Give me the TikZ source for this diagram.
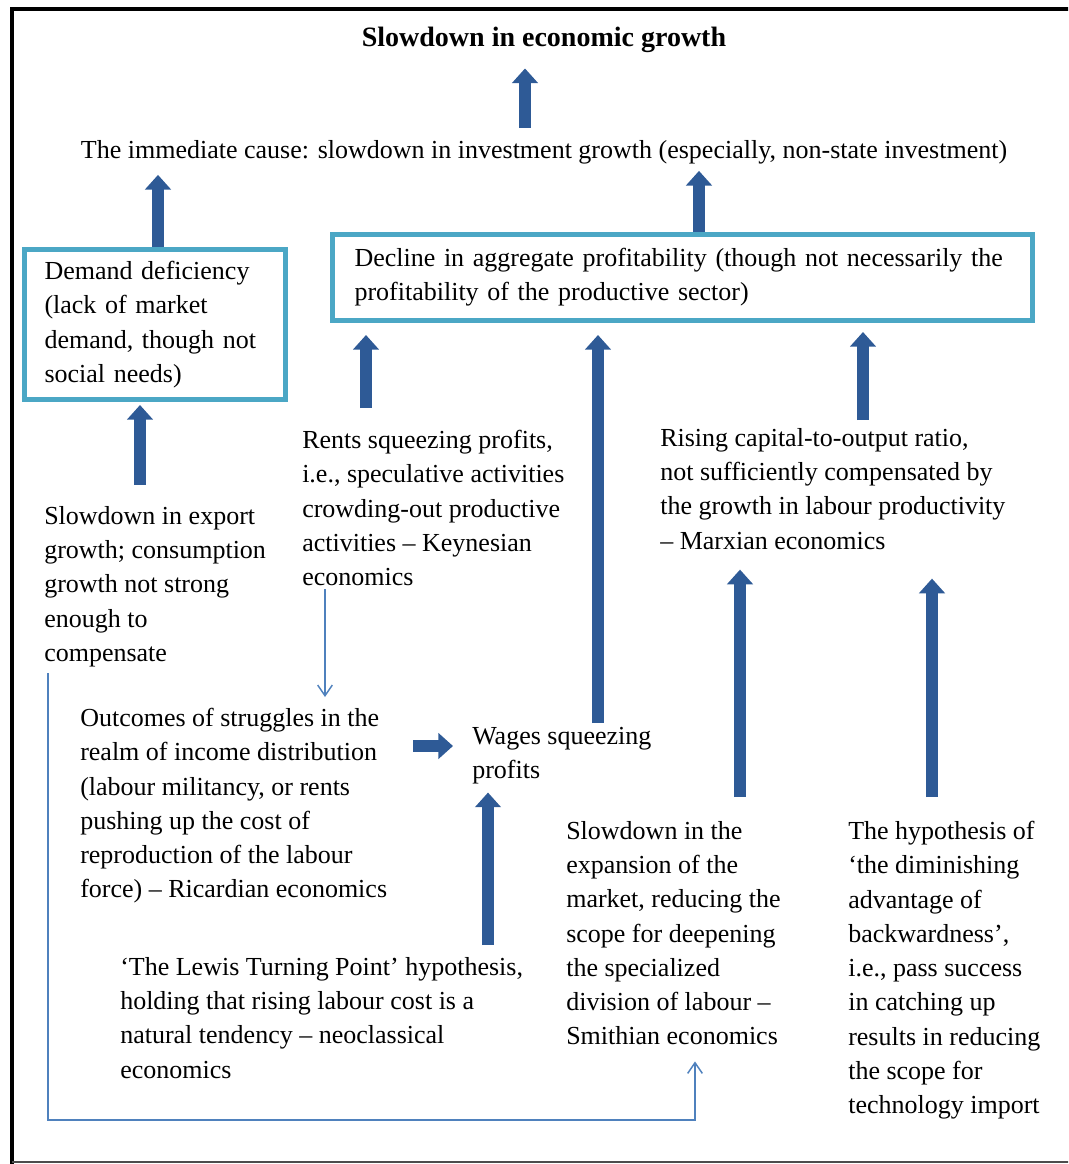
\documentclass[tikz,border=0pt]{standalone}
\usepackage{fontspec}
\setmainfont{Liberation Serif}
\usetikzlibrary{arrows.meta}

\definecolor{arrowblue}{RGB}{46,90,150}
\definecolor{thinblue}{RGB}{79,129,189}
\definecolor{boxteal}{RGB}{75,167,197}

\tikzset{
  txt/.style={anchor=north west, align=left, inner sep=0pt, font=\fontsize{19.5pt}{25.7pt}\selectfont},
  tealbox/.style={draw=boxteal, line width=3.75pt, anchor=north west, align=left, inner ysep=0pt, font=\fontsize{19.5pt}{25.7pt}\selectfont},
  blockarrow/.style={arrowblue, line width=8.5pt, -{Triangle[width=19pt,length=11pt]}},
  thinarrow/.style={thinblue, line width=1.1pt, -{Straight Barb[length=8pt,width=11pt]}}
}

\begin{document}
\begin{tikzpicture}[x=0.75pt,y=-0.75pt]

\useasboundingbox (0,0) rectangle (1068,1164);
\clip (0,0) rectangle (1068,1164);

% The frame
\draw[line width=3pt] (12,1166) -- (12,9) -- (1070,9);
\draw[black!70, line width=1.5pt] (12,1162) -- (1070,1162);

% The texts
\node[anchor=base, font=\fontsize{21pt}{25.7pt}\selectfont\bfseries, inner sep=0pt] (title) at (544,46) {Slowdown in economic growth};
\node[anchor=base, font=\fontsize{19.5pt}{25.7pt}\selectfont, inner sep=0pt] (immediate) at (544,158) {The immediate cause: slowdown in investment growth (especially, non-state investment)};

\node[tealbox, inner xsep=15pt, text width=165.75pt, minimum width=195.75pt, minimum height=112.5pt] (demand) at (22,247)
  {Demand deficiency\\(lack of market\\demand, though not\\social needs)};
\node[tealbox, inner xsep=16.5pt, text width=492pt, minimum width=525pt, minimum height=64.5pt] (profit) at (330,232)
  {Decline in aggregate profitability (though not necessarily the\\profitability of the productive sector)};

\node[txt] (export) at (44,506) {Slowdown in export\\growth; consumption\\growth not strong\\enough to\\compensate};
\node[txt] (rents) at (302,430) {Rents squeezing profits,\\i.e., speculative activities\\crowding-out productive\\activities – Keynesian\\economics};
\node[txt] (rising) at (660,428) {Rising capital-to-output ratio,\\not sufficiently compensated by\\the growth in labour productivity\\– Marxian economics};
\node[txt] (outcomes) at (80,708) {Outcomes of struggles in the\\realm of income distribution\\(labour militancy, or rents\\pushing up the cost of\\reproduction of the labour\\force) – Ricardian economics};
\node[txt] (wages) at (472,727) {Wages squeezing\\profits};
\node[txt] (smith) at (566,821) {Slowdown in the\\expansion of the\\market, reducing the\\scope for deepening\\the specialized\\division of labour –\\Smithian economics};
\node[txt] (backward) at (848,821) {The hypothesis of\\‘the diminishing\\advantage of\\backwardness’,\\i.e., pass success\\in catching up\\results in reducing\\the scope for\\technology import};
\node[txt] (lewis) at (120,957) {‘The Lewis Turning Point’ hypothesis,\\holding that rising labour cost is a\\natural tendency – neoclassical\\economics};

% The block arrows
\draw[blockarrow, shorten <=9pt, shorten >=12pt] (immediate.north -| 525,0) -- (title.south -| 525,0);
\draw[blockarrow, shorten >=8.25pt] (demand.north -| 158,0) -- (immediate.south -| 158,0);
\draw[blockarrow, shorten >=5.25pt] (profit.north -| 699,0) -- (immediate.south -| 699,0);
\draw[blockarrow, shorten <=16pt, shorten >=2.25pt] (export.north -| 140,0) -- (demand.south -| 140,0);
\draw[blockarrow, shorten <=16.5pt, shorten >=9pt] (rents.north -| 366,0) -- (profit.south -| 366,0);
\draw[blockarrow, shorten <=3pt, shorten >=9pt] (wages.north -| 598,0) -- (profit.south -| 598,0);
\draw[blockarrow, shorten <=6pt, shorten >=6.75pt] (rising.north -| 863,0) -- (profit.south -| 863,0);
\draw[blockarrow, shorten <=19.5pt, shorten >=14.25pt] (outcomes.east |- 0,746) -- (wages.west |- 0,746);
\draw[blockarrow, shorten <=9pt, shorten >=6pt] (lewis.north -| 488,0) -- (wages.south -| 488,0);
\draw[blockarrow, shorten <=18pt, shorten >=15pt] (smith.north -| 740,0) -- (rising.south -| 740,0);
\draw[blockarrow, shorten <=18pt, shorten >=21.75pt] (backward.north -| 932,0) -- (rising.south -| 932,0);

% The thin arrows
\coordinate (turn) at (695,1120);
\draw[thinarrow, shorten <=2.25pt, shorten >=8.25pt] (rents.south -| 325,0) -- (outcomes.north -| 325,0);
\draw[thinarrow, shorten <=4.5pt, shorten >=12pt] (export.south -| 48,0) |- (turn) -- (smith.south -| turn);

\end{tikzpicture}
\end{document}
